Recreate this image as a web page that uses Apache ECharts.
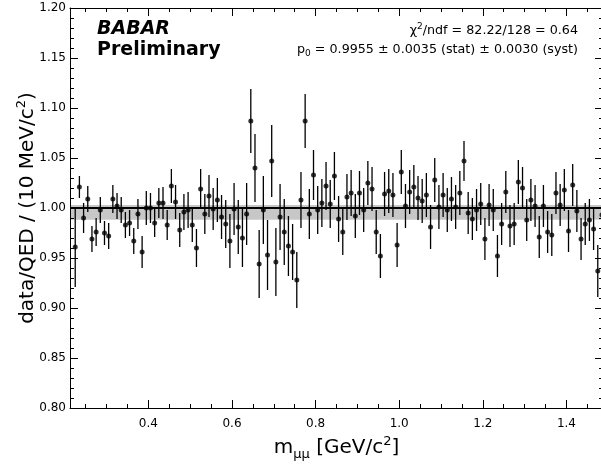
<!DOCTYPE html>
<html>
<head>
<meta charset="utf-8">
<script src="https://cdn.jsdelivr.net/npm/echarts@6/dist/echarts.min.js"></script>
<style>
html, body { margin: 0; padding: 0; background: #fff; }
#chart { width: 601px; height: 464px; }
</style>
</head>
<body>
<div id="chart"></div>
<script>
// 10 MeV bins, first bin starts at 0.22 GeV
const binStart = 0.22
const binWidth = 0.01

// data/QED ratio per bin
const ratio = [
  0.961, 1.021, 0.990, 1.009, 0.969, 0.976, 0.998, 0.975, 0.972, 1.009,
  1.002, 0.998, 0.983, 0.985, 0.967, 0.994, 0.956, 1.000, 1.000, 0.985,
  1.005, 1.005, 0.983, 1.022, 1.006, 0.978, 0.996, 0.998, 0.983, 0.960,
  1.019, 0.994, 1.012, 0.999, 1.008, 0.991, 0.984, 0.967, 0.999, 0.981,
  0.970, 0.994, 1.087, 1.040, 0.944, 0.998, 0.953, 1.047, 0.946, 0.991,
  0.976, 0.962, 0.956, 0.928, 1.008, 1.087, 0.994, 1.033, 0.998, 1.005,
  1.022, 1.004, 1.032, 0.989, 0.976, 1.011, 1.015, 0.992, 1.015, 0.998,
  1.025, 1.019, 0.976, 0.952, 1.014, 1.017, 1.013, 0.963, 1.036, 1.002,
  1.016, 1.021, 1.010, 1.007, 1.013, 0.981, 1.028, 1.001, 1.013, 0.998,
  1.009, 1.001, 1.015, 1.047, 0.995, 0.989, 0.998, 1.004, 0.969, 1.003,
  0.998, 0.952, 0.984, 1.016, 0.982, 0.984, 1.026, 1.020, 0.988, 1.008,
  1.002, 0.971, 1.002, 0.976, 0.973, 1.015, 1.003, 1.018, 0.977, 1.023,
  0.997, 0.969, 0.984, 0.988, 0.979, 0.937, 0.993
]

// statistical error per bin
const ratioErr = [
  0.040, 0.011, 0.015, 0.013, 0.013, 0.014, 0.013, 0.012, 0.013, 0.014,
  0.013, 0.013, 0.013, 0.013, 0.013, 0.015, 0.016, 0.017, 0.015, 0.014,
  0.015, 0.016, 0.015, 0.017, 0.017, 0.017, 0.018, 0.018, 0.017, 0.019,
  0.020, 0.020, 0.021, 0.021, 0.022, 0.022, 0.024, 0.027, 0.026, 0.027,
  0.029, 0.031, 0.032, 0.034, 0.034, 0.034, 0.035, 0.036, 0.034, 0.033,
  0.033, 0.030, 0.028, 0.028, 0.028, 0.027, 0.025, 0.025, 0.024, 0.024,
  0.024, 0.024, 0.024, 0.023, 0.023, 0.023, 0.023, 0.022, 0.022, 0.022,
  0.022, 0.022, 0.022, 0.022, 0.022, 0.022, 0.022, 0.022, 0.022, 0.022,
  0.022, 0.022, 0.022, 0.022, 0.022, 0.022, 0.022, 0.022, 0.022, 0.022,
  0.022, 0.022, 0.022, 0.020, 0.021, 0.021, 0.021, 0.021, 0.021, 0.021,
  0.021, 0.021, 0.021, 0.021, 0.021, 0.021, 0.022, 0.021, 0.021, 0.021,
  0.021, 0.021, 0.021, 0.021, 0.021, 0.021, 0.021, 0.021, 0.021, 0.021,
  0.021, 0.021, 0.021, 0.021, 0.021, 0.026, 0.021
]

// fit result: constant p0 and its total-error band
const fitValue = 0.9955
const fitBand = [0.9883, 1.003]
const refLine = 1.0

const xMajorTicks = [0.4, 0.6, 0.8, 1.0, 1.2, 1.4]
const xMinorTicks = [0.25, 0.3, 0.35, 0.45, 0.5, 0.55, 0.65, 0.7, 0.75, 0.85, 0.9, 0.95,
  1.05, 1.1, 1.15, 1.25, 1.3, 1.35, 1.45]

const mass = ratio.map((_, i) => +(binStart + binWidth * (i + 0.5)).toFixed(4))
const points = ratio.map((v, i) => [mass[i], v])
const bars = ratio.map((v, i) => [mass[i], v - ratioErr[i], v + ratioErr[i]])

const font = 'DejaVu Sans'
const xMin = 0.2125
const xMax = 1.4875

const chart = echarts.init(document.getElementById('chart'), null, { renderer: 'canvas' })

function xAxisFor(position, ticks, len, showLine, showLabel) {
  return {
    type: 'value',
    position: position,
    min: xMin,
    max: xMax,
    axisLine: { show: showLine, onZero: false, lineStyle: { color: '#000', width: 1 } },
    axisTick: { show: true, inside: true, length: len, customValues: ticks, lineStyle: { color: '#000' } },
    axisLabel: {
      show: showLabel,
      customValues: ticks,
      margin: 10,
      color: '#000',
      fontFamily: font,
      fontSize: 12,
      formatter: v => v.toFixed(1)
    },
    splitLine: { show: false }
  }
}

function yAxisFor(position, showLabel) {
  return {
    type: 'value',
    position: position,
    min: 0.8,
    max: 1.2,
    interval: 0.05,
    axisLine: { show: true, onZero: false, lineStyle: { color: '#000', width: 1 } },
    axisTick: { show: true, inside: true, length: 8, lineStyle: { color: '#000' } },
    minorTick: { show: true, splitNumber: 5, length: 4, lineStyle: { color: '#000' } },
    axisLabel: {
      show: showLabel,
      margin: 4,
      color: '#000',
      fontFamily: font,
      fontSize: 12,
      formatter: v => v.toFixed(2)
    },
    splitLine: { show: false }
  }
}

const xBottom = xAxisFor('bottom', xMajorTicks, 8, true, true)
xBottom.name = '{t|m}{sub|μμ}{t| [GeV/c}{sup|2}{t|]}'
xBottom.nameLocation = 'middle'
xBottom.nameGap = 23
xBottom.nameTextStyle = {
  fontFamily: font,
  fontSize: 20,
  color: '#000',
  rich: {
    t: { fontFamily: font, fontSize: 20, lineHeight: 26, color: '#000', verticalAlign: 'middle' },
    sub: { fontFamily: font, fontSize: 13, lineHeight: 13, color: '#000', verticalAlign: 'bottom' },
    sup: { fontFamily: font, fontSize: 13, lineHeight: 13, color: '#000', verticalAlign: 'top' }
  }
}

const yLeft = yAxisFor('left', true)
yLeft.name = '{t|data/QED / (10 MeV/c}{sup|2}{t|)}'
yLeft.nameLocation = 'middle'
yLeft.nameMoveOverlap = false
yLeft.nameGap = 29
yLeft.nameTextStyle = {
  fontFamily: font,
  fontSize: 20,
  color: '#000',
  rich: {
    t: { fontFamily: font, fontSize: 20, lineHeight: 26, color: '#000', verticalAlign: 'middle' },
    sup: { fontFamily: font, fontSize: 13, lineHeight: 13, color: '#000', verticalAlign: 'top' }
  }
}

const option = {
  animation: false,
  backgroundColor: '#fff',
  grid: { left: 70, right: -2, top: 8, bottom: 56, containLabel: false, outerBoundsMode: 'none' },
  xAxis: [
    xBottom,
    xAxisFor('bottom', xMinorTicks, 4, false, false),
    xAxisFor('top', xMajorTicks, 8, true, false),
    xAxisFor('top', xMinorTicks, 4, false, false)
  ],
  yAxis: [
    yLeft,
    yAxisFor('right', false)
  ],
  graphic: [
    {
      type: 'text', left: 97, top: 20,
      style: { text: 'BABAR', fontFamily: font, fontSize: 19, fontWeight: 'bold', fontStyle: 'italic', fill: '#000' }
    },
    {
      type: 'text', left: 97, top: 41,
      style: { text: 'Preliminary', fontFamily: font, fontSize: 19, fontWeight: 'bold', fill: '#000' }
    },
    {
      type: 'text', right: 23, top: 22,
      style: {
        text: '{t|χ}{sup|2}{t|/ndf = 82.22/128 = 0.64}',
        fontFamily: font,
        fontSize: 12.7,
        fill: '#000',
        rich: {
          t: { fontFamily: font, fontSize: 12.7, lineHeight: 17, fill: '#000', verticalAlign: 'middle' },
          sup: { fontFamily: font, fontSize: 9, lineHeight: 9, fill: '#000', verticalAlign: 'top' }
        }
      }
    },
    {
      type: 'text', right: 23, top: 43,
      style: {
        text: '{t|p}{sub|0}{t| = 0.9955 ± 0.0035 (stat) ± 0.0030 (syst)}',
        fontFamily: font,
        fontSize: 12.7,
        fill: '#000',
        rich: {
          t: { fontFamily: font, fontSize: 12.7, lineHeight: 17, fill: '#000', verticalAlign: 'middle' },
          sub: { fontFamily: font, fontSize: 9, lineHeight: 9, fill: '#000', verticalAlign: 'bottom' }
        }
      }
    }
  ],
  series: [
    {
      name: 'fit',
      type: 'line',
      data: [],
      silent: true,
      markArea: {
        silent: true,
        itemStyle: { color: 'rgba(0,0,0,0.22)' },
        data: [[{ yAxis: fitBand[0] }, { yAxis: fitBand[1] }]]
      },
      markLine: {
        silent: true,
        symbol: 'none',
        label: { show: false },
        data: [
          { yAxis: fitValue, lineStyle: { color: '#000', width: 2, type: 'solid' } },
          { yAxis: refLine, lineStyle: { color: '#000', width: 1, type: [3, 2] } }
        ]
      }
    },
    {
      name: 'errors',
      type: 'custom',
      data: bars,
      z: 3,
      renderItem(params, api) {
        const lo = api.coord([api.value(0), api.value(1)])
        const hi = api.coord([api.value(0), api.value(2)])
        return {
          type: 'line',
          shape: { x1: lo[0], y1: lo[1], x2: hi[0], y2: hi[1] },
          style: { stroke: '#000', lineWidth: 1.3 }
        }
      }
    },
    {
      name: 'data',
      type: 'scatter',
      data: points,
      z: 4,
      symbol: 'circle',
      symbolSize: 5,
      itemStyle: { color: '#000' }
    }
  ]
}

chart.setOption(option)
</script>
</body>
</html>
